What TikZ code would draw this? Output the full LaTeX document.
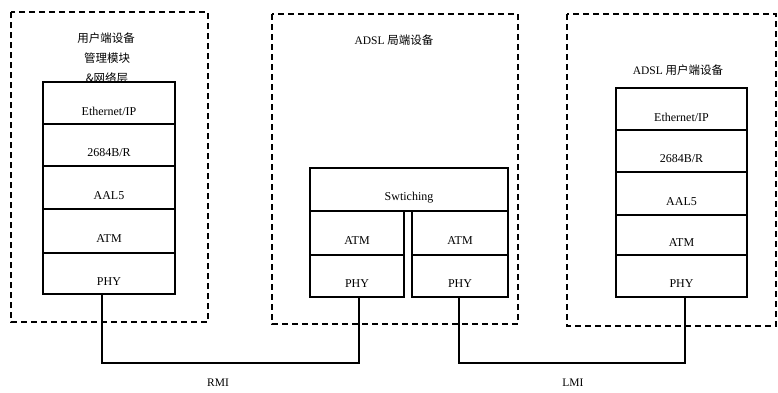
\documentclass[tikz,border=0pt]{standalone}
\usepackage{fontspec}
\setmainfont{Liberation Serif}
\newfontfamily\cjk{Noto Sans CJK SC}
\usetikzlibrary{calc}
\begin{document}
\begin{tikzpicture}[x=1pt,y=-1pt,
  devbox/.style={draw, dashed, dash pattern=on 6pt off 4pt, line width=1.1pt},
  layerbox/.style={draw, line width=1.3pt, fill=white},
  lbl/.style={font=\fontsize{12}{14}\selectfont},
  ttl/.style={font=\fontsize{11.5}{13}\selectfont},
  link/.style={draw, line width=1.3pt}]
\useasboundingbox (0,0) rectangle (778,392);
% device frames
\draw[devbox] (11,12) rectangle (208,322);
\draw[devbox] (272,14) rectangle (518,324);
\draw[devbox] (567,14) rectangle (776,326);
% titles
\node[ttl] (t1) at (106,38) {\cjk 用户端设备};
\node[ttl] (t2) at (107,58) {\cjk 管理模块};
\node[ttl] (t3) at (107,78) {\cjk \&网络层};
\node[ttl] (t4) at (394,40) {ADSL {\cjk 局端设备}};
\node[ttl] (t5) at (678,70) {ADSL {\cjk 用户端设备}};
% helper macro for a layer
\newcommand{\layerrow}[6]{%
  \path[layerbox] (#2,#3) rectangle (#4,#5);
  \node[lbl] (#1) at ({(#2+#4)/2},{(#3+#5)/2+8}) {#6};}
% left stack
\layerrow{L1}{43}{82}{175}{124}{Ethernet/IP}
\layerrow{L2}{43}{124}{175}{166}{2684B/R}
\layerrow{L3}{43}{166}{175}{209}{AAL5}
\layerrow{L4}{43}{209}{175}{253}{ATM}
\layerrow{L5}{43}{253}{175}{294}{PHY}
\coordinate (L5b) at (102,294);
% middle stack
\layerrow{M0}{310}{168}{508}{211}{Swtiching}
\layerrow{MA1}{310}{211}{404}{255}{ATM}
\layerrow{MP1}{310}{255}{404}{297}{PHY}
\layerrow{MA2}{412}{211}{508}{255}{ATM}
\layerrow{MP2}{412}{255}{508}{297}{PHY}
\coordinate (MP1b) at (359,297);
\coordinate (MP2b) at (459,297);
% right stack
\layerrow{R1}{616}{88}{747}{130}{Ethernet/IP}
\layerrow{R2}{616}{130}{747}{172}{2684B/R}
\layerrow{R3}{616}{172}{747}{215}{AAL5}
\layerrow{R4}{616}{215}{747}{255}{ATM}
\layerrow{R5}{616}{255}{747}{297}{PHY}
\coordinate (R5b) at (685,297);
% links
\coordinate (c1) at (102,363);
\coordinate (c2) at (459,363);
\draw[link] (L5b) -- (c1) -| (MP1b);
\draw[link] (MP2b) -- (c2) -| (R5b);
\node[ttl] (rmi) at (218,383) {RMI};
\node[ttl] (lmi) at (573,383) {LMI};
\end{tikzpicture}
\end{document}
